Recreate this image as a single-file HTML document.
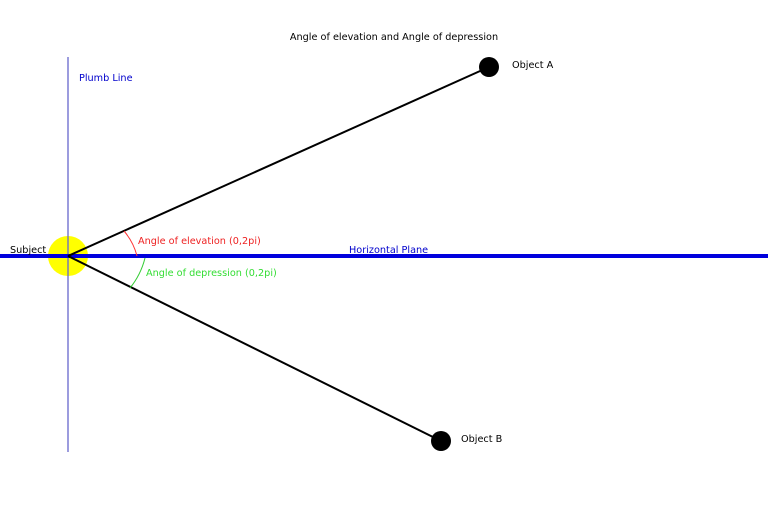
<!DOCTYPE html>
<html><head><style>body{margin:0;background:#fff}svg{display:block}</style></head><body>
<svg width="768" height="512" xmlns="http://www.w3.org/2000/svg" font-family="DejaVu Sans, sans-serif" font-size="9.7">
<circle cx="68" cy="256" r="20" fill="#ffff00"/>
<line x1="68" y1="57" x2="68" y2="452" stroke="#6666cc" stroke-width="1.3"/>
<line x1="0" y1="256" x2="768" y2="256" stroke="#0000dd" stroke-width="4"/>
<line x1="68" y1="256" x2="489" y2="67" stroke="#000" stroke-width="2"/>
<line x1="68" y1="256" x2="441" y2="441" stroke="#000" stroke-width="2"/>
<circle cx="489" cy="67" r="10" fill="#000"/>
<circle cx="441" cy="441" r="10" fill="#000"/>
<path d="M124,231 A62,62 0 0 1 137,256" fill="none" stroke="#ff3333" stroke-width="1"/>
<path d="M145,258 A77,77 0 0 1 130,288" fill="none" stroke="#33cc33" stroke-width="1"/>
<text x="394" y="40" text-anchor="middle" fill="#000">Angle of elevation and Angle of depression</text>
<text x="79" y="81" fill="#0000cc">Plumb Line</text>
<text x="512" y="68" fill="#000">Object A</text>
<text x="461" y="442" fill="#000">Object B</text>
<text x="10" y="253" fill="#000">Subject</text>
<text x="138" y="244" fill="#ee2222">Angle of elevation (0,2pi)</text>
<text x="349" y="253" fill="#0000cc">Horizontal Plane</text>
<text x="146" y="276" fill="#33dd33">Angle of depression (0,2pi)</text>
</svg>
</body></html>
